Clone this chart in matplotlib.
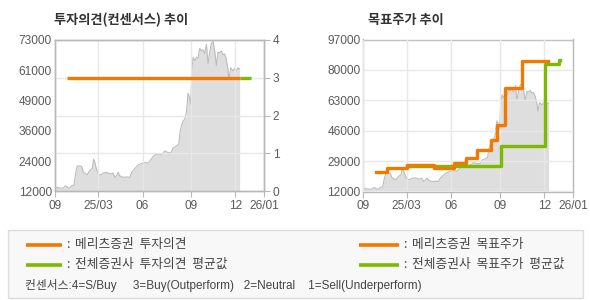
import matplotlib
matplotlib.use("Agg")
import matplotlib.pyplot as plt
from matplotlib.lines import Line2D
from matplotlib.patches import Rectangle
import numpy as np

plt.rcParams['font.family'] = ['Liberation Sans', 'Noto Sans CJK KR', 'DejaVu Sans']

# ---------------- data ----------------
# time axis in chart units (0 = left edge, 210 = 26/01)
x_ticks = [0, 43.2, 88, 137, 181, 210]
x_tick_labels = ['09', '25/03', '06', '09', '12', '26/01']

price_t = [0, 2, 5.3, 8.6, 10.3, 12, 13.6, 15.3, 17, 19.3, 21.3, 22.6, 25.3, 27, 28.6,
           30.3, 32.6, 34.6, 36, 37.6, 39, 40.3, 42, 43.6, 45.3, 47, 48.6, 52, 55.3,
           58.6, 60.3, 62, 63.6, 65.3, 68.6, 72, 75.3, 77, 80.3, 83.6, 87, 90.3, 93.6,
           97, 100.3, 103.6, 107, 110.3, 113.6, 117, 118.6, 122, 124.3, 125.3, 127,
           128.6, 130.3, 132, 133.6, 135.3, 136.3, 137.3, 138.6, 140.3, 142, 143.6,
           145.3, 147, 148.6, 150.3, 152, 153.6, 155.3, 157, 158.6, 160.3, 162, 163.6,
           165.3, 167, 168.6, 170.3, 172, 173.6, 174.6, 176.3, 178.6, 180.3, 182,
           183.6, 185.3]
price = [13850, 13600, 13300, 13300, 14100, 14000, 13300, 13400, 14300, 14400, 20000,
         22200, 22200, 22000, 19800, 19200, 18700, 20000, 20800, 21200, 24900, 23400,
         20800, 19000, 18600, 18800, 19400, 19600, 19000, 19300, 17600, 18300, 19600,
         18200, 17600, 17800, 17600, 19500, 21200, 22600, 23200, 23700, 23300, 25200,
         26700, 27000, 26700, 28200, 27600, 27700, 29500, 30300, 31000, 35000, 38500,
         40300, 41000, 44000, 51500, 49500, 47000, 60000, 66000, 64500, 66000, 65500,
         69500, 68500, 69000, 67500, 71200, 63500, 68000, 71500, 72500, 68500, 62700,
         68000, 67800, 68500, 67000, 67300, 65000, 61000, 57000, 61700, 60500, 61500,
         60500, 61700, 61300]

# investment opinion (consensus) : Meritz and all brokers average
opinion_t = [12, 185.5]
opinion_meritz = [3, 3]
opinion_avg_t = [185.5, 196.5]
opinion_avg = [3, 3]

# target price steps
tp_meritz_t = [12.7, 24.0, 44.0, 70.7, 90.7, 102.4, 113.4, 127.7, 133.4, 141.7, 158.4, 184.5]
tp_meritz = [23000, 25300, 27000, 25300, 28000, 31000, 35200, 40800, 49400, 69700, 85000, 85000]
tp_avg_t = [43.4, 137.2, 181.5, 195.8, 196.4]
tp_avg = [26000, 37400, 83500, 85500, 85500]

left_price_ticks = ['12000', '24000', '36000', '49000', '61000', '73000']
left_opinion_ticks = [0, 1, 2, 3, 4]
right_price_ticks = [12000, 29000, 46000, 63000, 80000, 97000]

# ---------------- style ----------------
ORANGE = '#f47800'
GREEN = '#7cb900'
FILL = '#dedede'
PLINE = '#bcbcbc'
GRID = '#e8e8e8'
SPINE = '#b8b8b8'
TXT = '#5a5a5a'
TICKSIZE = 8.6

W, H = 590, 300
fig = plt.figure(figsize=(5.9, 3.0), dpi=100)
fig.patch.set_facecolor('white')

def fx(px):
    return px / W

def fy(py):
    return 1 - py / H

def style_axes(ax):
    for s in ax.spines.values():
        s.set_color(SPINE)
        s.set_linewidth(1.0)
    ax.tick_params(colors=TXT, labelsize=TICKSIZE, length=0, pad=3)

# ---------- left chart ----------
ax1 = fig.add_axes([fx(54.7), fy(191.3), fx(264.3 - 54.7), (191.3 - 39.8) / H])
ax1.set_xlim(0, 210)
ax1.set_ylim(12000, 73000)
ax1.fill_between(price_t, price, 12000, color=FILL, lw=0, zorder=1)
ax1.plot(price_t, price, color=PLINE, lw=0.8, zorder=1.5)
ax1.set_xticks(x_ticks)
ax1.set_xticklabels(x_tick_labels)
ax1.set_yticks(np.linspace(12000, 73000, len(left_price_ticks)))
ax1.set_yticklabels(left_price_ticks)
ax1.set_axisbelow(False)
ax1.grid(axis='x', color=GRID, lw=1.0, zorder=2.5)
style_axes(ax1)
ax1.tick_params(axis='x', length=4, direction='out', color=SPINE, pad=2)
ax1.tick_params(axis='y', pad=2)

ax1r = ax1.twinx()
ax1r.set_ylim(0, 4)
ax1r.set_yticks(left_opinion_ticks)
ax1r.set_axisbelow(True)
ax1r.grid(axis='y', color=GRID, lw=1.0)
ax1r.plot(opinion_avg_t, opinion_avg, color=GREEN, lw=2.4, solid_capstyle='butt', zorder=3)
ax1r.plot(opinion_t, opinion_meritz, color=ORANGE, lw=2.4, solid_capstyle='butt', zorder=4)
style_axes(ax1r)
ax1r.tick_params(axis='y', length=4, direction='out', color=SPINE, pad=2)

fig.text(fx(54), fy(20), '투자의견(컨센서스) 추이', family=['Noto Sans CJK KR'],
         weight='bold', fontsize=9.5, color='#333333', va='center', ha='left')

# ---------- right chart ----------
ax2 = fig.add_axes([fx(363.3), fy(191.5), fx(210), 152 / H])
ax2.set_xlim(0, 210)
ax2.set_ylim(12000, 97000)
ax2.fill_between(price_t, price, 12000, color=FILL, lw=0, zorder=1)
ax2.plot(price_t, price, color=PLINE, lw=0.8, zorder=1.5)
ax2.set_xticks(x_ticks)
ax2.set_xticklabels(x_tick_labels)
ax2.set_yticks(right_price_ticks)
ax2.set_yticklabels([str(v) for v in right_price_ticks])
ax2.set_axisbelow(False)
ax2.grid(True, color=GRID, lw=1.0, zorder=2.5)
ax2.step(tp_avg_t, tp_avg, where='post', color=GREEN, lw=2.4, zorder=3)
ax2.step(tp_meritz_t, tp_meritz, where='post', color=ORANGE, lw=2.4, zorder=4)
style_axes(ax2)
ax2.tick_params(axis='x', length=4, direction='out', color=SPINE, pad=2)
ax2.tick_params(axis='y', pad=2)

fig.text(fx(367.5), fy(20), '목표주가 추이', family=['Noto Sans CJK KR'],
         weight='bold', fontsize=9.5, color='#333333', va='center', ha='left')

# ---------- legend box ----------
fig.add_artist(Rectangle((fx(8.3), fy(298)), fx(582.5 - 8.3), (298 - 229.5) / H,
                         transform=fig.transFigure, facecolor='#f8f8f8',
                         edgecolor='#dcdcdc', lw=1.0))

legend_items = [
    (25.7, 62.4, 244.6, ORANGE, '메리츠증권  투자의견'),
    (25.7, 62.4, 264.6, GREEN, '전체증권사  투자의견  평균값'),
    (358.5, 399.0, 244.6, ORANGE, '메리츠증권  목표주가'),
    (358.5, 399.0, 264.6, GREEN, '전체증권사  목표주가  평균값'),
]
for x0, x1, yy, c, label in legend_items:
    fig.add_artist(Line2D([fx(x0), fx(x1)], [fy(yy), fy(yy)], transform=fig.transFigure,
                          color=c, lw=2.6, solid_capstyle='butt'))
    fig.text(fx(x1 + 4), fy(yy), ':', fontsize=9, color='#444444',
             va='center', ha='left', family=['Noto Sans CJK KR', 'DejaVu Sans'])
    fig.text(fx(x1 + 13), fy(yy), label, fontsize=9.2, color='#444444',
             va='center', ha='left', family=['Noto Sans CJK KR', 'DejaVu Sans'])

fig.text(fx(24.6), fy(285), '컨센서스:4=S/Buy     3=Buy(Outperform)   2=Neutral    1=Sell(Underperform)',
         fontsize=8.5, color='#444444', va='center', ha='left',
         family=['Liberation Sans', 'Noto Sans CJK KR'])

fig.savefig('out.png', dpi=100, facecolor='white')
